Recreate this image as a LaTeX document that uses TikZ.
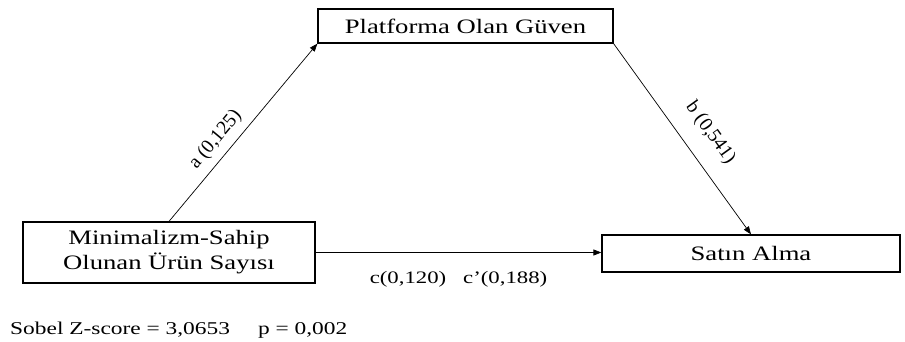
\documentclass[tikz,border=0pt]{standalone}
\usepackage{fontspec}
\setmainfont{Liberation Serif}[FakeStretch=1.3]
\newfontfamily\slopefont{Liberation Serif}
\usetikzlibrary{arrows.meta}

\begin{document}
\begin{tikzpicture}[x=1pt, y=1pt,
  box/.style={rectangle, draw=black, line width=1.2pt, align=center, inner sep=0pt, font=\fontsize{20.5}{25}\selectfont},
  arr/.style={-{Triangle[length=8pt, width=6pt]}, line width=0.7pt},
  lbl/.style={inner sep=0pt, font=\fontsize{17.5}{21}\selectfont},
  slbl/.style={inner sep=0pt, sloped, font=\slopefont\fontsize{19.5}{23}\selectfont}
]
\useasboundingbox (0,0) rectangle (905,342);
\node[box, minimum width=295pt, minimum height=34pt] (plat) at (465.5,316) {Platforma Olan Güven};
\node[box, minimum width=292pt, minimum height=61pt] (mini) at (169,89.5) {Minimalizm-Sahip\\Olunan Ürün Sayısı};
\node[box, minimum width=298pt, minimum height=37pt] (satin) at (751,88.5) {Satın Alma};
\draw[arr] (mini.north) -- (plat.south west) node[slbl, pos=0.4, above=7.5pt] (alab) {a (0,125)};
\draw[arr] (plat.south east) -- (satin.north) node[slbl, pos=0.55, above=17pt] (blab) {b (0,541)};
\draw[arr] (mini.east) -- (mini.east -| satin.west) node[lbl, midway, below=19pt] (clab) {c(0,120)\hspace{17pt}c’(0,188)};
% Sobel
\node[lbl, anchor=base west, font=\fontsize{18}{22}\selectfont] (sobel) at (10,7) {Sobel Z-score = 3,0653\hspace{28pt}p = 0,002};
\end{tikzpicture}
\end{document}
